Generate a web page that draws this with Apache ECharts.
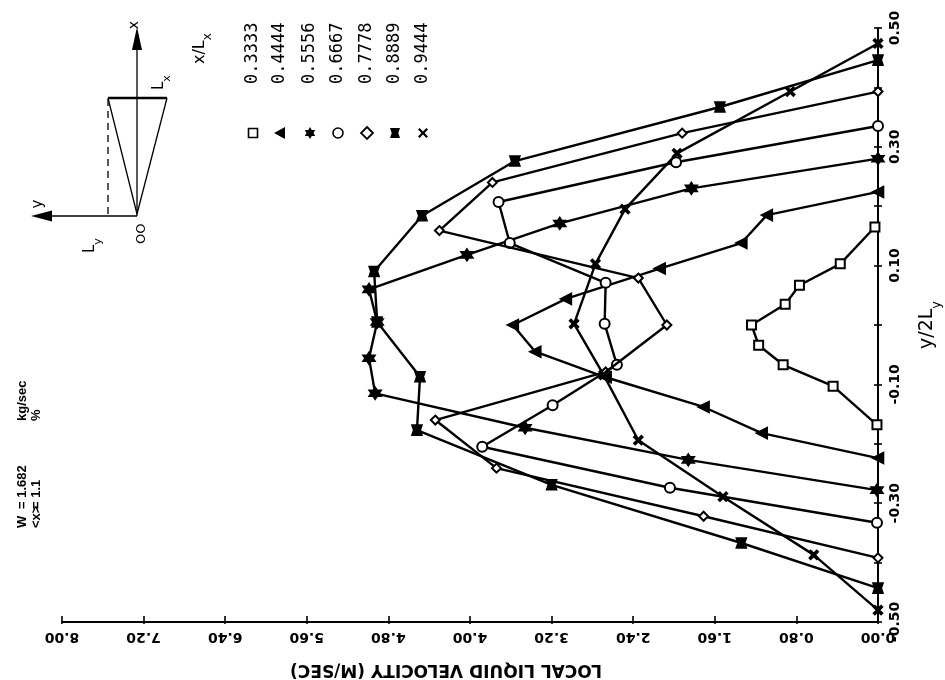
<!DOCTYPE html>
<html>
<head>
<meta charset="utf-8">
<script src="https://cdn.jsdelivr.net/npm/echarts@6/dist/echarts.min.js"></script>
<style>
  html, body { margin: 0; padding: 0; background: #ffffff; }
  #chart { width: 945px; height: 680px; }
</style>
</head>
<body>
<div id="chart"></div>
<script>
// Traverse stations x/Lx and, for each, probe position y/2Ly with local liquid velocity (m/s)
const stations = ['0.3333', '0.4444', '0.5556', '0.6667', '0.7778', '0.8889', '0.9444'];

const pos3333 = [0.165, 0.103, 0.067, 0.035, 0.0, -0.034, -0.067, -0.103, -0.168];
const vel3333 = [0.03, 0.37, 0.77, 0.91, 1.24, 1.17, 0.93, 0.44, 0.01];

const pos4444 = [0.224, 0.185, 0.138, 0.095, 0.044, 0.0, -0.045, -0.088, -0.138, -0.182, -0.224];
const vel4444 = [0.0, 1.09, 1.34, 2.14, 3.06, 3.58, 3.36, 2.67, 1.71, 1.14, 0.0];

const pos5556 = [0.280, 0.230, 0.171, 0.118, 0.060, 0.005, -0.056, -0.115, -0.173, -0.227, -0.278];
const vel5556 = [0.0, 1.83, 3.12, 4.03, 4.99, 4.91, 4.99, 4.93, 3.46, 1.86, 0.01];

const pos6667 = [0.335, 0.274, 0.207, 0.138, 0.071, 0.002, -0.067, -0.135, -0.205, -0.274, -0.333];
const vel6667 = [0.0, 1.98, 3.72, 3.61, 2.67, 2.68, 2.56, 3.19, 3.88, 2.04, 0.01];

const pos7778 = [0.393, 0.323, 0.240, 0.159, 0.079, 0.0, -0.079, -0.160, -0.241, -0.322, -0.392];
const vel7778 = [0.0, 1.92, 3.78, 4.30, 2.35, 2.07, 2.67, 4.34, 3.74, 1.71, 0.0];

const pos8889 = [0.446, 0.367, 0.276, 0.184, 0.090, 0.005, -0.087, -0.177, -0.269, -0.367, -0.443];
const vel8889 = [0.0, 1.55, 3.56, 4.47, 4.94, 4.91, 4.49, 4.52, 3.20, 1.34, 0.0];

const pos9444 = [0.474, 0.393, 0.289, 0.195, 0.103, 0.002, -0.084, -0.194, -0.289, -0.387, -0.480];
const vel9444 = [0.0, 0.86, 1.97, 2.48, 2.77, 2.98, 2.69, 2.35, 1.52, 0.63, 0.0];

// Axis ranges and steps
const velMin = 0, velMax = 8, velStep = 0.8;
const posMin = -0.5, posMax = 0.5, posStep = 0.1;

// Run conditions printed in the corner
const flowRate = '1.682';
const quality = '1.1';

const traverses = [
  [pos3333, vel3333], [pos4444, vel4444], [pos5556, vel5556], [pos6667, vel6667],
  [pos7778, vel7778], [pos8889, vel8889], [pos9444, vel9444]
];

// Marker outlines on a 10 x 10 unit box
const STAR_PTS = [[5, 0], [6.45, 2.5], [9.35, 2.5], [7.9, 5], [9.35, 7.5], [6.45, 7.5], [5, 10],
  [3.55, 7.5], [0.65, 7.5], [2.1, 5], [0.65, 2.5], [3.55, 2.5]];
const BOWTIE_PTS = [[0, 0], [10, 0], [8.3, 5], [10, 10], [0, 10], [1.7, 5]];
const CROSS_PTS = [[0, 1.6], [1.6, 0], [5, 3.4], [8.4, 0], [10, 1.6], [6.6, 5], [10, 8.4], [8.4, 10],
  [5, 6.6], [1.6, 10], [0, 8.4], [3.4, 5]];

const toPath = pts => 'path://M' + pts.map(p => p[0] + ',' + p[1]).join(' L') + ' Z';
const placePts = (pts, cx, cy, size) => pts.map(p => [cx + (p[0] - 5) * size / 10, cy + (p[1] - 5) * size / 10]);

const markers = [
  { symbol: 'emptyRect', symbolSize: 9 },
  { symbol: 'triangle', symbolSize: 11, symbolRotate: 90 },
  { symbol: toPath(STAR_PTS), symbolSize: 12 },
  { symbol: 'emptyCircle', symbolSize: 10 },
  { symbol: 'emptyDiamond', symbolSize: 9 },
  { symbol: toPath(BOWTIE_PTS), symbolSize: 10 },
  { symbol: toPath(CROSS_PTS), symbolSize: 9 }
];

const INK = '#000000';
const MONO = '"DejaVu Sans Mono", monospace';
const SANS = '"DejaVu Sans", sans-serif';

const series = traverses.map(([pos, vel], k) => Object.assign({
  name: stations[k],
  type: 'line',
  data: pos.map((p, i) => [vel[i], p]),
  showAllSymbol: true,
  clip: false,
  lineStyle: { color: INK, width: 2.4 },
  itemStyle: { color: INK, borderColor: INK, borderWidth: 1.6 },
  emphasis: { disabled: true },
  z: 3 + k
}, markers[k]));

// Legend: rotated station labels with their marker
const legendCols = [253, 280, 310, 338, 367, 395, 423];
const legendSymY = 133;
const legendTextY = 84;

function rotText(x, y, text, font, extra) {
  return {
    type: 'text', x: x, y: y, rotation: Math.PI / 2, z: 50,
    style: Object.assign({
      text: text, font: font, fill: INK,
      align: 'left', textAlign: 'left',
      verticalAlign: 'middle', textVerticalAlign: 'middle'
    }, extra || {})
  };
}

const legendEls = [];
stations.forEach((s, k) => {
  const cx = legendCols[k], cy = legendSymY;
  legendEls.push(rotText(cx, legendTextY, s, '17px ' + MONO));
  let sym;
  switch (k) {
    case 0: sym = { type: 'rect', shape: { x: cx - 4.5, y: cy - 4.5, width: 9, height: 9 }, style: { fill: '#fff', stroke: INK, lineWidth: 1.6 } }; break;
    case 1: sym = { type: 'polygon', shape: { points: [[cx - 6, cy], [cx + 5, cy - 6], [cx + 5, cy + 6]] }, style: { fill: INK } }; break;
    case 2: sym = { type: 'polygon', shape: { points: placePts(STAR_PTS, cx, cy, 12) }, style: { fill: INK } }; break;
    case 3: sym = { type: 'circle', shape: { cx: cx, cy: cy, r: 5 }, style: { fill: '#fff', stroke: INK, lineWidth: 1.6 } }; break;
    case 4: sym = { type: 'polygon', shape: { points: [[cx, cy - 6], [cx + 6, cy], [cx, cy + 6], [cx - 6, cy]] }, style: { fill: '#fff', stroke: INK, lineWidth: 1.8 } }; break;
    case 5: sym = { type: 'polygon', shape: { points: placePts(BOWTIE_PTS, cx, cy, 10) }, style: { fill: INK } }; break;
    default: sym = { type: 'polygon', shape: { points: placePts(CROSS_PTS, cx, cy, 10) }, style: { fill: INK } };
  }
  sym.z = 50;
  legendEls.push(sym);
});

const subRich = (big, small) => ({
  a: { fontSize: big, fontFamily: SANS, lineHeight: big + 6, verticalAlign: 'top' },
  b: { fontSize: small, fontFamily: SANS, lineHeight: small, verticalAlign: 'bottom' }
});

legendEls.push(rotText(203, 64, '{a|x/L}{b|x}', '16px ' + SANS, { rich: subRich(16, 12) }));

// Duct sketch: coordinate arrows, tapered section and labels
const thin = { stroke: INK, lineWidth: 1.3 };
const sketchEls = [
  { type: 'line', shape: { x1: 137, y1: 216, x2: 137, y2: 48 }, style: thin },
  { type: 'polygon', shape: { points: [[137, 27], [132, 50], [142, 50]] }, style: { fill: INK } },
  { type: 'line', shape: { x1: 137, y1: 216, x2: 50, y2: 216 }, style: thin },
  { type: 'polygon', shape: { points: [[31, 216], [52, 210.5], [52, 221.5]] }, style: { fill: INK } },
  { type: 'line', shape: { x1: 108, y1: 98, x2: 167, y2: 98 }, style: { stroke: INK, lineWidth: 2.4 } },
  { type: 'line', shape: { x1: 108, y1: 98, x2: 137, y2: 214 }, style: thin },
  { type: 'line', shape: { x1: 167, y1: 98, x2: 137, y2: 214 }, style: thin },
  { type: 'line', shape: { x1: 108, y1: 99, x2: 108, y2: 216 }, style: { stroke: INK, lineWidth: 1.3, lineDash: [7, 5] } },
  rotText(134, 25, 'x', '14px ' + SANS, { align: 'center', textAlign: 'center' }),
  rotText(38, 204, 'y', '15px ' + SANS, { align: 'center', textAlign: 'center' }),
  rotText(162, 90, '{a|L}{b|x}', '15px ' + SANS, { rich: subRich(15, 11) }),
  rotText(93, 253, '{a|L}{b|y}', '15px ' + SANS, { rich: subRich(15, 11) }),
  rotText(142, 244, 'OO', '13px ' + SANS)
];

// Run conditions
const condFont = 'bold 13px "Liberation Sans", sans-serif';
const condEls = [
  rotText(22, 528, 'W', condFont),
  rotText(22, 509, '= ' + flowRate, condFont),
  rotText(22, 421, 'kg/sec', condFont),
  rotText(36, 528, '<x>', condFont),
  rotText(36, 509, '= ' + quality, condFont),
  rotText(36, 421, '%', condFont)
];

const labelStyle = { color: INK, fontFamily: SANS, fontWeight: 'bold', fontSize: 14 };

const option = {
  animation: false,
  backgroundColor: '#ffffff',
  grid: { left: 62, right: 67, top: 28, bottom: 58, containLabel: false, outerBoundsMode: 'none' },
  xAxis: [
    {
      type: 'value', min: velMin, max: velMax, interval: velStep, inverse: true,
      position: 'bottom',
      name: 'LOCAL LIQUID VELOCITY (M/SEC)',
      nameLocation: 'middle', nameGap: 39, nameRotate: 180,
      nameTextStyle: { color: INK, fontFamily: SANS, fontWeight: 'bold', fontSize: 17, padding: [0, 0, 0, 48] },
      axisLine: { show: true, onZero: false, lineStyle: { color: INK, width: 2 } },
      axisTick: { show: true, inside: false, length: 2, lineStyle: { color: INK, width: 1.6 } },
      axisLabel: Object.assign({ rotate: 180, margin: 8, showMinLabel: true, showMaxLabel: true,
        formatter: v => v.toFixed(2) }, labelStyle),
      splitLine: { show: false }
    },
    {
      type: 'value', min: velMin, max: velMax, interval: velStep, inverse: true,
      position: 'bottom',
      axisLine: { show: false, onZero: false },
      axisTick: { show: true, inside: true, length: 6, lineStyle: { color: INK, width: 1.6 } },
      axisLabel: { show: false },
      splitLine: { show: false }
    }
  ],
  yAxis: [
    {
      type: 'value', min: posMin, max: posMax, interval: posStep,
      position: 'right',
      name: '{a|y/2L}{b|y}',
      nameLocation: 'middle', nameGap: 40, nameRotate: 90,
      nameTextStyle: { color: INK, rich: subRich(19, 13) },
      axisLine: { show: true, onZero: false, lineStyle: { color: INK, width: 2 } },
      axisTick: { show: true, inside: false, length: 4, lineStyle: { color: INK, width: 1.6 } },
      axisLabel: Object.assign({ rotate: 90, margin: 10, showMinLabel: true, showMaxLabel: true,
        formatter: v => (Math.round(v * 10) % 2 !== 0 ? v.toFixed(2) : '') }, labelStyle),
      splitLine: { show: false }
    },
    {
      type: 'value', min: posMin, max: posMax, interval: posStep,
      position: 'right',
      axisLine: { show: false, onZero: false },
      axisTick: { show: true, inside: true, length: 4, lineStyle: { color: INK, width: 1.6 } },
      axisLabel: { show: false },
      splitLine: { show: false }
    }
  ],
  graphic: { elements: legendEls.concat(sketchEls, condEls) },
  series: series
};

const chart = echarts.init(document.getElementById('chart'), null, { renderer: 'canvas' });
chart.setOption(option);
</script>
</body>
</html>
